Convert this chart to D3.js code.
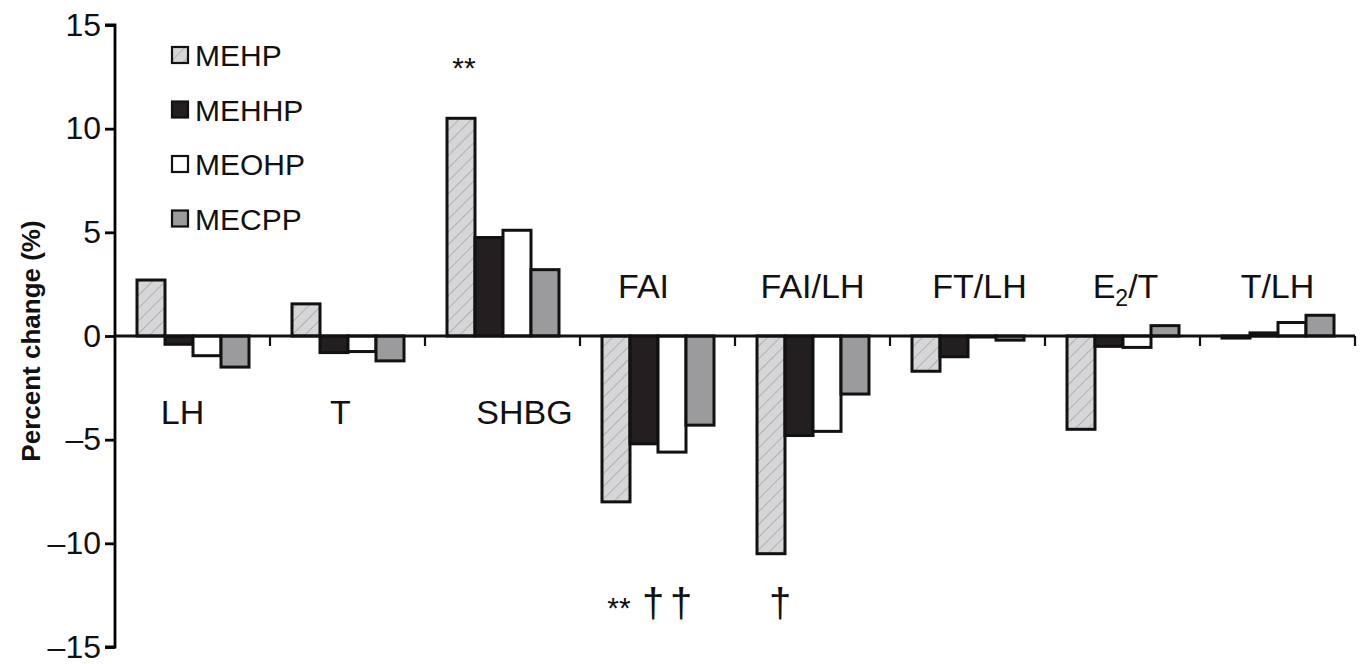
<!DOCTYPE html>
<style>
body { margin: 0; background: #fff; }
text { font-family: "Liberation Sans", Arial, sans-serif; }
</style>
<script src="https://d3js.org/d3.v7.min.js"></script>
<body>
<script>

var width = 1361,
    height = 664;

var categories = ["LH", "T", "SHBG", "FAI", "FAI/LH", "FT/LH", "E2/T", "T/LH"];
var series = ["MEHP", "MEHHP", "MEOHP", "MECPP"];
var MEHP  = [2.7, 1.55, 10.5, -8.0, -10.5, -1.7, -4.5, -0.1];
var MEHHP = [-0.4, -0.8, 4.75, -5.2, -4.8, -1.0, -0.5, 0.15];
var MEOHP = [-0.95, -0.75, 5.1, -5.6, -4.6, -0.05, -0.55, 0.65];
var MECPP = [-1.5, -1.2, 3.2, -4.3, -2.8, -0.2, 0.5, 1.0];
var yTicks = [-15, -10, -5, 0, 5, 10, 15];
// which categories carry the label below the axis
var labelBelow = ["LH", "T", "SHBG"];
// significance marks: [category, series, symbol, where]
var marks = [
  ["SHBG", "MEHP", "**", "top"],
  ["FAI", "MEHP", "**", "bottom"],
  ["FAI", "MEHHP", "\u2020", "bottom"],
  ["FAI", "MEOHP", "\u2020", "bottom"],
  ["FAI/LH", "MEHP", "\u2020", "bottom"]
];

var values = { MEHP: MEHP, MEHHP: MEHHP, MEOHP: MEOHP, MECPP: MECPP };
var fills = { MEHP: "url(#hatch)", MEHHP: "#231f20", MEOHP: "#fff", MECPP: "#9b9b9d" };
// nudge of each category label from its group centre
var labelDx = [-10, -7, 22, -14, 0, 12, 3, 0];

var svg = d3.select("body").append("svg")
    .attr("width", width)
    .attr("height", height);

var defs = svg.append("defs");
var pat = defs.append("pattern")
    .attr("id", "hatch")
    .attr("patternUnits", "userSpaceOnUse")
    .attr("width", 9)
    .attr("height", 9)
    .attr("patternTransform", "rotate(45)");
pat.append("rect").attr("width", 9).attr("height", 9).attr("fill", "#d6d6d8");
pat.append("line").attr("x1", 0).attr("y1", 0).attr("x2", 0).attr("y2", 9)
    .attr("stroke", "#a0a0a2").attr("stroke-width", 1.4);

var y = d3.scaleLinear()
    .domain([-15, 15])
    .range([647, 25]);

var x0 = d3.scaleBand()
    .domain(categories)
    .range([115, 1355]);

var x1 = d3.scaleBand()
    .domain(series)
    .range([22, 22 + 112]);

// y axis
svg.append("g")
    .attr("transform", "translate(115,0)")
    .call(d3.axisLeft(y).tickValues(yTicks).tickSize(10).tickPadding(4)
      .tickFormat(function(d) { return d < 0 ? "\u2013" + Math.abs(d) : d; }))
    .call(function(g) {
      g.select(".domain").attr("stroke-width", 2.8).attr("d", "M-10," + y(15) + "H0V" + y(-15) + "H-10");
      g.selectAll(".tick line").attr("stroke-width", 2.8);
      g.selectAll(".tick text").attr("font-size", 32).attr("fill", "#111")
        .style("font-family", "Liberation Sans, Arial, sans-serif");
    });

svg.append("text")
    .attr("transform", "translate(40," + (y(0) + 5) + ") rotate(-90)")
    .attr("text-anchor", "middle")
    .attr("font-size", 26)
    .attr("font-weight", "bold")
    .attr("fill", "#111")
    .text("Percent change (%)");

// bars
var groups = svg.selectAll(".grp")
  .data(categories)
  .enter().append("g")
    .attr("class", "grp")
    .attr("transform", function(d) { return "translate(" + x0(d) + ",0)"; });

groups.selectAll("rect")
  .data(function(c, i) { return series.map(function(s) { return { s: s, v: values[s][i] }; }); })
  .enter().append("rect")
    .attr("x", function(d) { return x1(d.s); })
    .attr("width", x1.bandwidth())
    .attr("y", function(d) { return y(Math.max(0, d.v)); })
    .attr("height", function(d) { return Math.abs(y(d.v) - y(0)); })
    .attr("fill", function(d) { return fills[d.s]; })
    .attr("stroke", "#111")
    .attr("stroke-width", 3);

// x axis line with group ticks
var xa = svg.append("g").attr("transform", "translate(0," + y(0) + ")");
xa.append("line")
    .attr("x1", 115).attr("x2", 1355)
    .attr("stroke", "#111").attr("stroke-width", 2.8);
xa.selectAll(".gt")
  .data(categories.slice(1).concat(["end"]))
  .enter().append("line")
    .attr("x1", function(d) { return d === "end" ? 1355 : x0(d); })
    .attr("x2", function(d) { return d === "end" ? 1355 : x0(d); })
    .attr("y1", 0).attr("y2", 10)
    .attr("stroke", "#111").attr("stroke-width", 2.2);

// category labels
var lab = svg.selectAll(".cat")
  .data(categories)
  .enter().append("text")
    .attr("class", "cat")
    .attr("x", function(d, i) { return x0(d) + x0.bandwidth() / 2 + labelDx[i]; })
    .attr("y", function(d) { return labelBelow.indexOf(d) >= 0 ? y(0) + 88 : y(0) - 38; })
    .attr("text-anchor", "middle")
    .attr("font-size", 34)
    .attr("fill", "#111");
lab.each(function(d) {
  var t = d3.select(this);
  if (d === "E2/T") {
    t.append("tspan").text("E");
    t.append("tspan").attr("font-size", 23).attr("dy", 8).text("2");
    t.append("tspan").attr("dy", -8).text("/T");
  } else {
    t.text(d);
  }
});

// significance marks
svg.selectAll(".sig")
  .data(marks)
  .enter().append("text")
    .attr("class", "sig")
    .attr("x", function(d) { return x0(d[0]) + x1(d[1]) + x1.bandwidth() / 2 + (d[2] === "**" ? 3 : 9); })
    .attr("y", function(d) { return d[3] === "top" ? (d[2] === "**" ? 78 : 72) : (d[2] === "**" ? 618 : 617); })
    .attr("text-anchor", "middle")
    .attr("font-size", function(d) { return d[2] === "**" ? 30 : 40; })
    .attr("fill", "#111")
    .text(function(d) { return d[2]; });

// legend
var leg = svg.selectAll(".leg")
  .data(series)
  .enter().append("g")
    .attr("class", "leg")
    .attr("transform", function(d, i) { return "translate(172," + (47 + i * 54.5) + ")"; });
leg.append("rect")
    .attr("width", 16).attr("height", 16)
    .attr("fill", function(d) { return fills[d]; })
    .attr("stroke", "#111").attr("stroke-width", 2.2);
leg.append("text")
    .attr("x", 23).attr("y", 19)
    .attr("font-size", 30)
    .attr("fill", "#111")
    .text(function(d) { return d; });

</script>
</body>
